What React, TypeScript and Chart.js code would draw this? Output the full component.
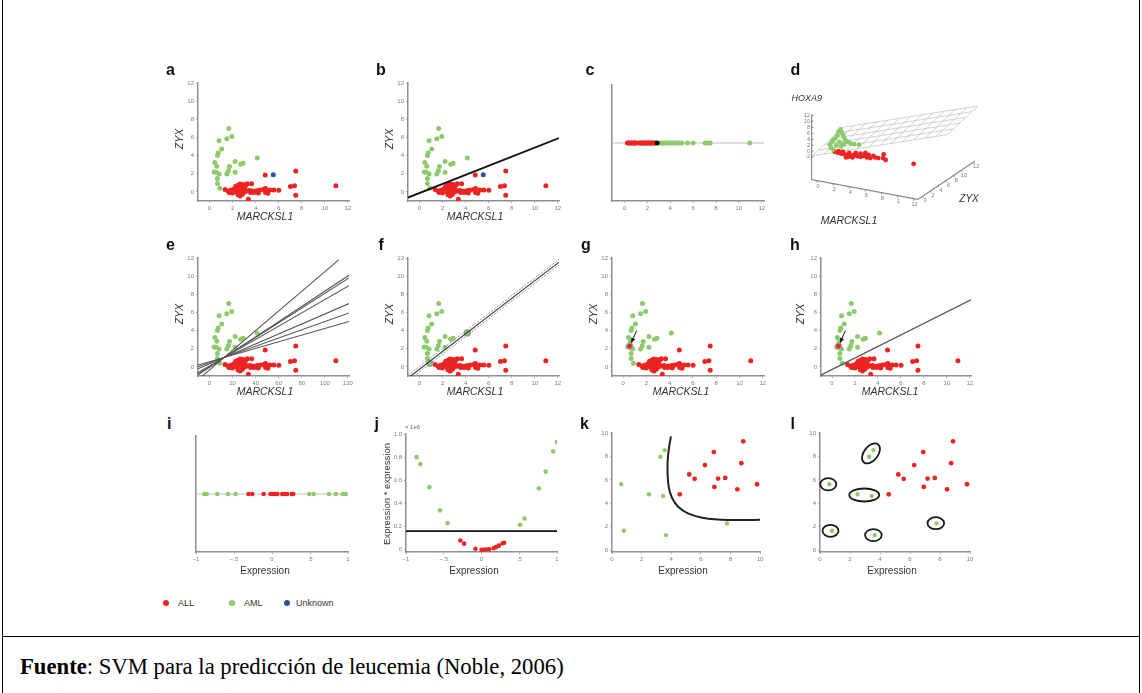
import React, { useEffect, useRef } from "react";
import { Chart, registerables } from "chart.js";

Chart.register(...registerables);

const RED = "#ec2421";
const GREEN = "#8dca6b";
const BLUE = "#2f4f9f";
const AXIS_COLOR = "#8e8e8e";
const TICK_COLOR = "#7c7c7c";
const SANS = "'Liberation Sans', Arial, Helvetica, sans-serif";
const SERIF = "'Liberation Serif', 'Times New Roman', serif";

// ---------- panels a, b, e, f, g, h : MARCKSL1 (x) vs ZYX (y) ----------
const allPoints = [
  [2.27, 0.63], [2.47, 0.74], [2.65, 0.86], [2.91, 0.82], [3.14, 0.74], [3.28, 0.89], [3.65, 0.89], [2.76, 0.59], [2.99, 0.56], [2.36, 0.45],
  [1.35, 0.26], [1.61, 0.11], [1.84, 0.19], [2.07, 0.3], [2.19, 0.37], [2.42, 0.3], [2.56, 0.22], [2.71, 0.3], [2.85, 0.19], [3.08, 0.3],
  [3.28, 0.11], [3.51, 0.15], [3.74, 0.07], [4.0, 0.11], [4.2, 0.15], [4.43, 0.22], [4.72, 0.3], [4.86, 0.37], [5.01, 0.11], [5.24, 0.22],
  [5.58, 0.22], [6.01, 0.19], [1.7, -0.07], [1.99, -0.11], [2.36, 0.0], [2.59, -0.15], [2.85, -0.26], [3.05, 0.0], [3.57, -0.07], [3.86, -0.07],
  [4.23, -0.11], [4.86, -0.07], [5.06, -0.15], [2.65, -0.45], [2.47, -0.3], [3.37, -0.82], [7.48, -0.37], [4.83, 1.86], [7.48, 2.3], [7.02, 0.59],
  [7.37, 0.67], [10.96, 0.67],
];
const amlPoints = [
  [1.67, 6.99], [1.93, 6.1], [1.5, 5.85], [0.83, 5.65], [1.06, 4.72], [0.75, 4.28], [0.69, 4.01], [0.46, 3.23], [0.63, 2.83], [0.4, 2.19],
  [0.58, 2.16], [0.83, 1.97], [0.69, 1.49], [0.69, 0.93], [0.89, 0.41], [2.22, 3.35], [2.7, 3.05], [2.91, 3.16], [1.73, 2.79], [1.64, 2.34],
  [1.5, 1.97], [2.22, 2.16], [4.14, 3.75],
];
const unknownPoints = [[5.53, 1.9]];
const misclassifiedPoints = [[0.57, 2.3]];
const supportVectorPoints = [[4.14, 3.75], [0.89, 0.41]];

const geneTicks = [0, 2, 4, 6, 8, 10, 12];
const geneTickLabels = ["0", "2", "4", "6", "8", "10", "12"];
const eTickLabels = ["0", "20", "40", "60", "80", "100", "120"];

const bHyperplane = [[-1, -0.62], [12.1, 5.93]];
const eHyperplanes = [
  [[-1, -1.41], [11.2, 11.8]],
  [[-1, -0.87], [12.1, 10.1]],
  [[-1, -0.8], [12.1, 9.8]],
  [[-1, -0.63], [12.1, 8.95]],
  [[-1, -0.21], [12.1, 6.98]],
  [[-1, 0.01], [12.1, 5.95]],
  [[-1, 0.21], [12.1, 5.0]],
];
const fHyperplane = [[-1, -1.225], [12.1, 11.55]];
const fMarginUpper = [[-1, -0.925], [12.1, 11.85]];
const fMarginLower = [[-1, -1.525], [12.1, 11.25]];
const hHyperplane = [[-1, -0.915], [12.1, 7.4]];
const ghArrow = [[1.16, 4.0], [0.72, 2.68]];

// ---------- panel c : one-dimensional projection ----------
const cLevel = 0.5;
const cAll = [0.25, 0.35, 0.45, 0.55, 0.65, 0.75, 0.85, 0.95, 1.05, 1.3, 1.4, 1.5, 1.6, 1.7, 1.8, 1.9, 2.0, 2.1, 2.2, 2.3, 2.4, 2.5, 2.6, 2.7];
const cAml = [3.15, 3.3, 3.45, 3.6, 3.75, 3.9, 4.1, 4.25, 4.45, 4.6, 4.8, 5.0, 5.5, 6.0, 7.05, 7.3, 7.5, 10.95];
const cThreshold = [2.85];

// ---------- panel d : 3-D view (projected picture coordinates) ----------
const dAml = [
  [205, 270], [210, 262], [215, 255], [222, 250], [228, 240], [232, 228], [238, 222], [242, 232], [246, 240], [250, 250], [255, 258],
  [248, 268], [262, 262], [270, 266], [280, 268], [295, 270], [225, 272], [208, 280], [215, 285], [235, 262], [240, 275],
];
const dAll = [
  [220, 292], [230, 295], [240, 298], [250, 300], [258, 302], [265, 296], [272, 305], [280, 302], [290, 306], [300, 308], [310, 305],
  [320, 310], [330, 312], [345, 310], [355, 312], [372, 300], [378, 318], [370, 312], [255, 310], [245, 292], [300, 298], [315, 296],
  [340, 305], [285, 296], [275, 310], [325, 302], [262, 308], [232, 290], [465, 330],
];
const dAxes = [
  [[148, 175], [148, 380]],
  [[148, 380], [478, 442]],
  [[478, 442], [655, 322]],
];
const dPlane = [[150, 305], [245, 215], [665, 148], [570, 238]];
const dHoxTicks = [178, 196, 215, 234, 253, 272, 290, 308];
const dHoxLabels = ["12", "10", "8", "6", "4", "2", "0", "-2"];
const dMarcTicks = [[165, 383], [215, 393], [265, 402], [315, 411], [365, 421], [415, 430], [465, 440]];
const dMarcLabels = ["0", "2", "4", "6", "8", "1", "12"];
const dZyxTicks = [[492, 432], [516, 416], [540, 400], [564, 384], [588, 367], [612, 351], [650, 325]];
const dZyxLabels = ["0", "2", "4", "6", "8", "10", "12"];

// ---------- panels i, j : expression ----------
const exprTicks = [-1, -0.5, 0, 0.5, 1];
const exprTickLabels = ["\u22121", "\u2212.5", "0", ".5", "1"];
const iLevel = 0.5;
const iAll = [-0.31, -0.26, -0.11, -0.02, 0.01, 0.04, 0.07, 0.135, 0.165, 0.2, 0.26, 0.28];
const iAml = [-0.89, -0.86, -0.72, -0.58, -0.48, 0.49, 0.55, 0.75, 0.84, 0.93, 0.97];
const jAll = [[-0.28, 0.08], [-0.23, 0.052], [-0.08, 0.008], [0.0, 0.0], [0.03, 0.0], [0.06, 0.001], [0.1, 0.003], [0.16, 0.012], [0.19, 0.022], [0.23, 0.035], [0.28, 0.055], [0.3, 0.06]];
const jAml = [[-0.86, 0.8], [-0.81, 0.74], [-0.69, 0.54], [-0.55, 0.34], [-0.45, 0.23], [0.51, 0.215], [0.57, 0.27], [0.76, 0.53], [0.85, 0.675], [0.95, 0.85], [1.0, 0.93]];
const jThreshold = 0.16;
const jYTicks = [0, 0.2, 0.4, 0.6, 0.8, 1.0];
const jYLabels = ["0", "0.2", "0.4", "0.6", "0.8", "1.0"];

// ---------- panels k, l ----------
const klTicks = [0, 2, 4, 6, 8, 10];
const klLabels = ["0", "2", "4", "6", "8", "10"];
const klAml = [[0.62, 5.63], [0.8, 1.66], [2.5, 4.77], [3.27, 7.97], [3.56, 8.54], [3.45, 4.63], [3.65, 1.29], [7.77, 2.29]];
const klAll = [[4.58, 4.77], [5.22, 6.46], [5.58, 6.09], [6.28, 7.26], [6.88, 8.37], [6.92, 5.4], [7.17, 6.11], [7.65, 6.17], [8.47, 5.2], [8.74, 7.43], [8.87, 9.29], [9.8, 5.63]];
const kBoundary = [[3.98, 9.71], [3.85, 8.71], [3.76, 7.57], [3.76, 6.43], [3.85, 5.29], [4.07, 4.43], [4.47, 3.71], [5.13, 3.14], [6.02, 2.8], [7.12, 2.63], [8.67, 2.57], [10.0, 2.6]];
const lContours = [
  { x: 0.55, y: 5.63, rx: 8, ry: 6.2, rot: 0 },
  { x: 0.7, y: 1.66, rx: 8, ry: 6, rot: 0 },
  { x: 3.56, y: 1.29, rx: 8.3, ry: 6, rot: 0 },
  { x: 7.72, y: 2.31, rx: 8.3, ry: 6, rot: 0 },
  { x: 2.95, y: 4.71, rx: 15, ry: 6.5, rot: 0 },
  { x: 3.4, y: 8.26, rx: 11.5, ry: 7, rot: -52 },
];

// ---------- helpers ----------
const toXY = (pts: number[][]) => pts.map(([x, y]) => ({ x, y }));
const onLevel = (xs: number[], level: number) => xs.map((x) => ({ x, y: level }));

function pointsDs(data: any[], color: string, r = 2.5, ring?: string) {
  return {
    data,
    showLine: false,
    pointRadius: r,
    pointBackgroundColor: color,
    pointBorderColor: ring ?? color,
    pointBorderWidth: ring ? 1.3 : 0,
  };
}
function lineDs(pts: number[][], color: string, width: number, dash: number[] = [], tension = 0) {
  return {
    data: toXY(pts),
    showLine: true,
    borderColor: color,
    borderWidth: width,
    borderDash: dash,
    pointRadius: 0,
    fill: false,
    tension,
  };
}
function linAxis(position: "bottom" | "left", min: number, max: number, ticks: number[], labels: string[], size: number) {
  const horizontal = position === "bottom";
  return {
    type: "linear",
    position,
    min,
    max,
    afterBuildTicks: (s: any) => {
      s.ticks = ticks.map((v) => ({ value: v }));
    },
    afterFit: (s: any) => {
      if (horizontal) s.height = size;
      else s.width = size;
    },
    ticks: {
      display: ticks.length > 0,
      autoSkip: false,
      maxRotation: 0,
      padding: 2,
      color: TICK_COLOR,
      font: { family: SANS, size: 6 },
      callback: (_v: any, i: number) => labels[i],
    },
    grid: { display: ticks.length > 0, drawOnChartArea: false, drawTicks: true, tickLength: 2, color: "#a0a0a0", lineWidth: 0.8 },
    border: { display: true, color: AXIS_COLOR, width: 1.5 },
  };
}
function config(datasets: any[], scales: any, plugins: any[] = []) {
  return {
    type: "scatter",
    data: { datasets },
    options: {
      animation: false,
      responsive: false,
      maintainAspectRatio: false,
      events: [],
      scales,
      plugins: { legend: { display: false }, tooltip: { enabled: false } },
    },
    plugins,
  };
}

const arrowPlugin = (arrow: number[][]) => ({
  id: "arrow",
  afterDatasetsDraw(chart: any) {
    const { ctx, scales } = chart;
    const x1 = scales.x.getPixelForValue(arrow[0][0]);
    const y1 = scales.y.getPixelForValue(arrow[0][1]);
    const x2 = scales.x.getPixelForValue(arrow[1][0]);
    const y2 = scales.y.getPixelForValue(arrow[1][1]);
    const a = Math.atan2(y2 - y1, x2 - x1);
    ctx.save();
    ctx.strokeStyle = "#111";
    ctx.fillStyle = "#111";
    ctx.lineWidth = 1;
    ctx.beginPath();
    ctx.moveTo(x1, y1);
    ctx.lineTo(x2, y2);
    ctx.stroke();
    ctx.beginPath();
    ctx.moveTo(x2, y2);
    ctx.lineTo(x2 - 5 * Math.cos(a - 0.45), y2 - 5 * Math.sin(a - 0.45));
    ctx.lineTo(x2 - 5 * Math.cos(a + 0.45), y2 - 5 * Math.sin(a + 0.45));
    ctx.closePath();
    ctx.fill();
    ctx.restore();
  },
});

const contourPlugin = {
  id: "contours",
  afterDatasetsDraw(chart: any) {
    const { ctx, scales } = chart;
    ctx.save();
    ctx.strokeStyle = "#1a1a1a";
    ctx.lineWidth = 1.8;
    for (const c of lContours) {
      ctx.beginPath();
      ctx.ellipse(scales.x.getPixelForValue(c.x), scales.y.getPixelForValue(c.y), c.rx, c.ry, (c.rot * Math.PI) / 180, 0, Math.PI * 2);
      ctx.stroke();
    }
    ctx.restore();
  },
};

const lerp = (p: number[], q: number[], t: number) => [p[0] + (q[0] - p[0]) * t, p[1] + (q[1] - p[1]) * t];
const d3Plugin = {
  id: "d3",
  beforeDatasetsDraw(chart: any) {
    const { ctx, scales } = chart;
    const px = (p: number[]) => [scales.x.getPixelForValue(p[0]), scales.y.getPixelForValue(p[1])];
    const [A, B, C, D] = dPlane;
    ctx.save();
    ctx.strokeStyle = "#bdbdbd";
    ctx.lineWidth = 0.7;
    const seg = (p: number[], q: number[]) => {
      const a = px(p);
      const b = px(q);
      ctx.beginPath();
      ctx.moveTo(a[0], a[1]);
      ctx.lineTo(b[0], b[1]);
      ctx.stroke();
    };
    for (let i = 0; i <= 5; i++) seg(lerp(A, B, i / 5), lerp(D, C, i / 5));
    for (let i = 0; i <= 12; i++) seg(lerp(A, D, i / 12), lerp(B, C, i / 12));
    ctx.restore();
  },
  afterDatasetsDraw(chart: any) {
    const { ctx, scales } = chart;
    const px = (p: number[]) => [scales.x.getPixelForValue(p[0]), scales.y.getPixelForValue(p[1])];
    ctx.save();
    ctx.strokeStyle = "#777";
    ctx.lineWidth = 0.8;
    ctx.fillStyle = "#777";
    ctx.font = `5.5px ${SANS}`;
    ctx.textBaseline = "middle";
    dHoxTicks.forEach((y, i) => {
      const a = px([148, y]);
      ctx.beginPath();
      ctx.moveTo(a[0], a[1]);
      ctx.lineTo(a[0] + 2, a[1]);
      ctx.stroke();
      ctx.textAlign = "right";
      ctx.fillText(dHoxLabels[i], a[0] - 1.5, a[1]);
    });
    ctx.textAlign = "center";
    dMarcTicks.forEach((p, i) => {
      const a = px(p);
      ctx.beginPath();
      ctx.moveTo(a[0], a[1]);
      ctx.lineTo(a[0], a[1] + 2);
      ctx.stroke();
      ctx.fillText(dMarcLabels[i], a[0] + 1, a[1] + 5.5);
    });
    dZyxTicks.forEach((p, i) => {
      const a = px(p);
      ctx.beginPath();
      ctx.moveTo(a[0], a[1]);
      ctx.lineTo(a[0] + 1.5, a[1] + 1.5);
      ctx.stroke();
      ctx.fillText(dZyxLabels[i], a[0] + 3, a[1] + 4.5);
    });
    ctx.restore();
  },
};

// ---------- geometry ----------
type Geom = { l: number; t: number; r: number; b: number; yW: number; xH: number; pt?: number; pr?: number };

function ChartBox({ g, build }: { g: Geom; build: () => any }) {
  const ref = useRef<HTMLCanvasElement>(null);
  const pt = g.pt ?? 8;
  const pr = g.pr ?? 10;
  const left = g.l - g.yW;
  const top = g.t - pt;
  const width = g.r + pr - left;
  const height = g.b + g.xH - top;
  useEffect(() => {
    const cfg = build();
    cfg.options.layout = { padding: { top: pt, right: pr, left: 0, bottom: 0 } };
    const chart = new Chart(ref.current as HTMLCanvasElement, cfg as any);
    return () => chart.destroy();
  }, []);
  return <canvas ref={ref} width={width} height={height} style={{ position: "absolute", left, top, width, height }} />;
}

const geneScales = (xLabels: string[]) => ({
  x: linAxis("bottom", -1, 12.1, geneTicks, xLabels, 14),
  y: linAxis("left", -1, 12, geneTicks, geneTickLabels, 28),
});

const panels: { key: string; g: Geom; build: () => any }[] = [
  {
    key: "a",
    g: { l: 198, t: 83, r: 349, b: 201, yW: 28, xH: 14 },
    build: () =>
      config(
        [pointsDs(toXY(unknownPoints), BLUE), pointsDs(toXY(amlPoints), GREEN), pointsDs(toXY(allPoints), RED)],
        geneScales(geneTickLabels)
      ),
  },
  {
    key: "b",
    g: { l: 408, t: 83, r: 559, b: 201, yW: 28, xH: 14 },
    build: () =>
      config(
        [lineDs(bHyperplane, "#111", 1.8), pointsDs(toXY(unknownPoints), BLUE), pointsDs(toXY(amlPoints), GREEN), pointsDs(toXY(allPoints), RED)],
        geneScales(geneTickLabels)
      ),
  },
  {
    key: "c",
    g: { l: 612, t: 85, r: 764, b: 201, yW: 20, xH: 14 },
    build: () =>
      config(
        [
          pointsDs(onLevel(cThreshold, cLevel), "#111"),
          pointsDs(onLevel(cAml, cLevel), GREEN),
          pointsDs(onLevel(cAll, cLevel), RED),
          lineDs([[-1.1, cLevel], [12.2, cLevel]], "#c2c2c2", 1),
        ],
        { x: linAxis("bottom", -1.1, 12.2, geneTicks, geneTickLabels, 14), y: linAxis("left", 0, 1, [], [], 20) }
      ),
  },
  {
    key: "d",
    g: { l: 760, t: 55, r: 990, b: 225, yW: 0, xH: 0, pt: 0, pr: 0 },
    build: () =>
      config(
        [
          pointsDs(toXY(dAml), GREEN, 2.4),
          pointsDs(toXY(dAll), RED, 2.4),
          ...dAxes.map((s) => lineDs(s, "#8a8a8a", 1.2)),
        ],
        {
          x: { type: "linear", display: false, min: 0, max: 690 },
          y: { type: "linear", display: false, min: 0, max: 510, reverse: true },
        },
        [d3Plugin]
      ),
  },
  {
    key: "e",
    g: { l: 198, t: 258, r: 349, b: 376, yW: 28, xH: 14 },
    build: () =>
      config(
        [...eHyperplanes.map((s) => lineDs(s, "#555", 1.1)), pointsDs(toXY(amlPoints), GREEN), pointsDs(toXY(allPoints), RED)],
        geneScales(eTickLabels)
      ),
  },
  {
    key: "f",
    g: { l: 408, t: 258, r: 559, b: 376, yW: 28, xH: 14 },
    build: () =>
      config(
        [
          lineDs(fHyperplane, "#333", 1.1),
          lineDs(fMarginUpper, "#8f8f8f", 1, [2, 1.5]),
          lineDs(fMarginLower, "#8f8f8f", 1, [2, 1.5]),
          pointsDs(toXY(supportVectorPoints), GREEN, 3, "#9a9a9a"),
          pointsDs(toXY(amlPoints), GREEN),
          pointsDs(toXY(allPoints), RED),
        ],
        geneScales(geneTickLabels)
      ),
  },
  {
    key: "g",
    g: { l: 612, t: 258, r: 764, b: 376, yW: 28, xH: 14 },
    build: () =>
      config(
        [pointsDs(toXY(misclassifiedPoints), RED, 3, "#9a9a9a"), pointsDs(toXY(amlPoints), GREEN), pointsDs(toXY(allPoints), RED)],
        { x: linAxis("bottom", -0.95, 12.1, geneTicks, geneTickLabels, 14), y: linAxis("left", -1, 12, geneTicks, geneTickLabels, 28) },
        [arrowPlugin(ghArrow)]
      ),
  },
  {
    key: "h",
    g: { l: 821, t: 258, r: 971, b: 376, yW: 28, xH: 14 },
    build: () =>
      config(
        [
          lineDs(hHyperplane, "#555", 1.3),
          pointsDs(toXY(misclassifiedPoints), RED, 3, "#9a9a9a"),
          pointsDs(toXY(amlPoints), GREEN),
          pointsDs(toXY(allPoints), RED),
        ],
        { x: linAxis("bottom", -0.96, 12.1, geneTicks, geneTickLabels, 14), y: linAxis("left", -1, 12, geneTicks, geneTickLabels, 28) },
        [arrowPlugin(ghArrow)]
      ),
  },
  {
    key: "i",
    g: { l: 196, t: 436, r: 348, b: 552, yW: 20, xH: 14 },
    build: () =>
      config(
        [pointsDs(onLevel(iAml, iLevel), GREEN, 2.3), pointsDs(onLevel(iAll, iLevel), RED, 2.3), lineDs([[-1, iLevel], [1, iLevel]], "#c2c2c2", 1)],
        { x: linAxis("bottom", -1, 1, exprTicks, exprTickLabels, 14), y: linAxis("left", 0, 1, [], [], 20) }
      ),
  },
  {
    key: "j",
    g: { l: 406, t: 434, r: 557, b: 552, yW: 26, xH: 14 },
    build: () =>
      config(
        [lineDs([[-1, jThreshold], [1, jThreshold]], "#111", 1.8), pointsDs(toXY(jAml), GREEN, 2.3), pointsDs(toXY(jAll), RED, 2.3)],
        { x: linAxis("bottom", -1, 1, exprTicks, exprTickLabels, 14), y: linAxis("left", -0.02, 1.0, jYTicks, jYLabels, 26) }
      ),
  },
  {
    key: "k",
    g: { l: 612, t: 433, r: 760, b: 552, yW: 20, xH: 14 },
    build: () =>
      config(
        [lineDs(kBoundary, "#222", 2, [], 0.4), pointsDs(toXY(klAml), GREEN, 2.2), pointsDs(toXY(klAll), RED, 2.4)],
        { x: linAxis("bottom", 0, 10, klTicks, klLabels, 14), y: linAxis("left", -0.15, 10, klTicks, klLabels, 20) }
      ),
  },
  {
    key: "l",
    g: { l: 820, t: 433, r: 970, b: 552, yW: 20, xH: 14 },
    build: () =>
      config(
        [pointsDs(toXY(klAml), GREEN, 2.2), pointsDs(toXY(klAll), RED, 2.4)],
        { x: linAxis("bottom", 0, 10, klTicks, klLabels, 14), y: linAxis("left", -0.15, 10, klTicks, klLabels, 20) },
        [contourPlugin]
      ),
  },
];

// ---------- text overlays ----------
type TextSpec = { t: string; x: number; y: number; size: number; italic?: boolean; rot?: boolean; color?: string };
const axisTexts: TextSpec[] = [
  { t: "ZYX", x: 178.7, y: 139, size: 10.5, italic: true, rot: true },
  { t: "ZYX", x: 388.7, y: 139, size: 10.5, italic: true, rot: true },
  { t: "ZYX", x: 178.7, y: 314, size: 10.5, italic: true, rot: true },
  { t: "ZYX", x: 388.7, y: 314, size: 10.5, italic: true, rot: true },
  { t: "ZYX", x: 593, y: 314, size: 10.5, italic: true, rot: true },
  { t: "ZYX", x: 799.7, y: 314, size: 10.5, italic: true, rot: true },
  { t: "MARCKSL1", x: 265, y: 216, size: 10.5, italic: true },
  { t: "MARCKSL1", x: 475, y: 216, size: 10.5, italic: true },
  { t: "MARCKSL1", x: 265, y: 391, size: 10.5, italic: true },
  { t: "MARCKSL1", x: 475, y: 391, size: 10.5, italic: true },
  { t: "MARCKSL1", x: 681, y: 391, size: 10.5, italic: true },
  { t: "MARCKSL1", x: 890, y: 391, size: 10.5, italic: true },
  { t: "MARCKSL1", x: 849, y: 220, size: 10.5, italic: true },
  { t: "HOXA9", x: 806.7, y: 98.3, size: 9, italic: true },
  { t: "ZYX", x: 969, y: 199, size: 10, italic: true },
  { t: "Expression", x: 265, y: 571, size: 10 },
  { t: "Expression", x: 474, y: 571, size: 10 },
  { t: "Expression", x: 683, y: 571, size: 10 },
  { t: "Expression", x: 892, y: 571, size: 10 },
  { t: "Expression * expression", x: 386.7, y: 494, size: 9.5, rot: true },
  { t: "\u00d7 1e6", x: 412.5, y: 427.3, size: 6, color: "#666" },
];
const panelLetters = [
  { t: "a", x: 166, y: 61.5 }, { t: "b", x: 376, y: 61.5 }, { t: "c", x: 585.5, y: 61.5 }, { t: "d", x: 790.5, y: 61.5 },
  { t: "e", x: 166, y: 236.5 }, { t: "f", x: 378.5, y: 236.5 }, { t: "g", x: 581, y: 236.5 }, { t: "h", x: 790, y: 236.5 },
  { t: "i", x: 167, y: 415.5 }, { t: "j", x: 374.5, y: 415.5 }, { t: "k", x: 580, y: 415.5 }, { t: "l", x: 790.5, y: 415.5 },
];
const legendItems = [
  { label: "ALL", color: RED, dot: 166, text: 178 },
  { label: "AML", color: GREEN, dot: 232, text: 244 },
  { label: "Unknown", color: BLUE, dot: 287, text: 296 },
];

export default function App() {
  return (
    <div style={{ position: "absolute", left: 0, top: 0, width: 1142, height: 693, overflow: "hidden", background: "#fff" }}>
      {/* table borders */}
      <div style={{ position: "absolute", left: 2, top: 0, width: 1, height: 693, background: "#000" }} />
      <div style={{ position: "absolute", left: 1139, top: 0, width: 1, height: 693, background: "#000" }} />
      <div style={{ position: "absolute", left: 2, top: 636, width: 1138, height: 1, background: "#000" }} />

      {panels.map((p) => (
        <ChartBox key={p.key} g={p.g} build={p.build} />
      ))}

      {axisTexts.map((s, i) => (
        <div
          key={i}
          style={{
            position: "absolute",
            left: s.x,
            top: s.y,
            transform: `translate(-50%, -50%)${s.rot ? " rotate(-90deg)" : ""}`,
            fontFamily: SANS,
            fontSize: s.size,
            fontStyle: s.italic ? "italic" : "normal",
            color: s.color ?? "#333",
            whiteSpace: "nowrap",
            lineHeight: 1,
          }}
        >
          {s.t}
        </div>
      ))}

      {panelLetters.map((s) => (
        <div
          key={s.t}
          style={{ position: "absolute", left: s.x, top: s.y, fontFamily: SANS, fontWeight: "bold", fontSize: 16, lineHeight: "16px", color: "#111" }}
        >
          {s.t}
        </div>
      ))}

      {legendItems.map((it) => (
        <React.Fragment key={it.label}>
          <div style={{ position: "absolute", left: it.dot - 3, top: 600, width: 6, height: 6, borderRadius: 3, background: it.color }} />
          <div
            style={{ position: "absolute", left: it.text, top: 603, transform: "translateY(-50%)", fontFamily: SANS, fontSize: 9, lineHeight: 1, color: "#333", whiteSpace: "nowrap" }}
          >
            {it.label}
          </div>
        </React.Fragment>
      ))}

      <div style={{ position: "absolute", left: 20, top: 654.5, fontFamily: SERIF, fontSize: 22.7, lineHeight: "24px", color: "#000", whiteSpace: "nowrap" }}>
        <b>Fuente</b>: SVM para la predicción de leucemia (Noble, 2006)
      </div>
    </div>
  );
}
